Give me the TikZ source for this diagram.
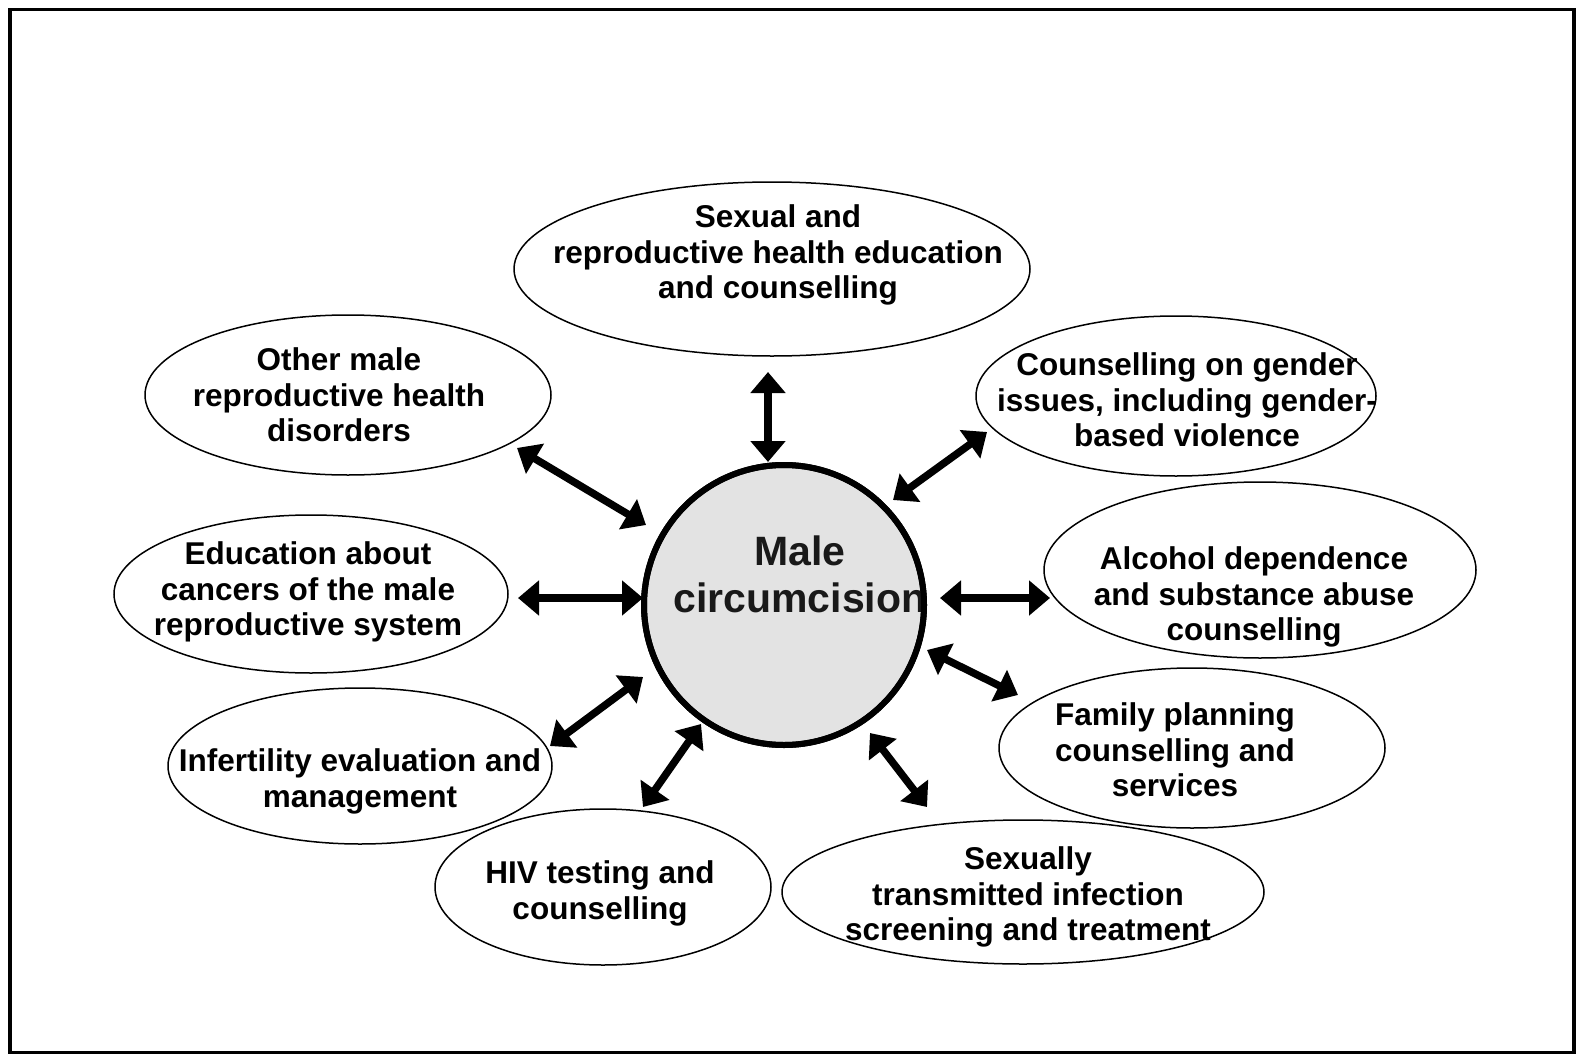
\documentclass[tikz,border=0pt]{standalone}
\usepackage{fontspec}
\setmainfont{Liberation Sans}
\usetikzlibrary{arrows.meta,shapes.geometric}
\begin{document}
\begin{tikzpicture}[x=1pt,y=-1pt,
  bubble/.style={draw, line width=1.5pt, ellipse, inner sep=0pt},
  lbl/.style={font=\fontsize{31.5}{35.5}\selectfont\bfseries, align=center, inner sep=0pt, anchor=north},
  hub/.style={circle, draw, line width=6pt, fill=gray!22, minimum size=280pt, inner sep=0pt},
  link/.style={line width=7.5pt, {Triangle[length=21pt,width=34pt]}-{Triangle[length=21pt,width=34pt]}}]
\useasboundingbox (0,0) rectangle (1580,1060);
\draw[line width=3.5pt] (10,9.5) rectangle (1574,1052.5);

% ellipses
\node[bubble, minimum width=516pt, minimum height=174pt] (srh) at (772,269) {};
\node[bubble, minimum width=406pt, minimum height=160pt] (oth) at (348,395) {};
\node[bubble, minimum width=400pt, minimum height=160pt] (gen) at (1176,396) {};
\node[bubble, minimum width=394pt, minimum height=158pt] (edu) at (311,594) {};
\node[bubble, minimum width=432pt, minimum height=176pt] (alc) at (1260,570) {};
\node[bubble, minimum width=384pt, minimum height=156pt] (inf) at (360,766) {};
\node[bubble, minimum width=386pt, minimum height=160pt] (fam) at (1192,748) {};
\node[bubble, minimum width=336pt, minimum height=156pt] (hiv) at (603,887) {};
\node[bubble, minimum width=482pt, minimum height=144pt] (sti) at (1023,892) {};

% labels
\node[lbl] (srhT) at (778,204.5) {Sexual and\\reproductive health education\\and counselling};
\node[lbl] (othT) at (339,347.5) {Other male\\reproductive health\\disorders};
\node[lbl] (genT) at (1187,352.5) {Counselling on gender\\issues, including gender-\\based violence};
\node[lbl] (eduT) at (308,541.5) {Education about\\cancers of the male\\reproductive system};
\node[lbl] (alcT) at (1254,546.5) {Alcohol dependence\\and substance abuse\\counselling};
\node[lbl] (infT) at (360,748.5) {Infertility evaluation and\\management};
\node[lbl] (famT) at (1175,702.5) {Family planning\\counselling and\\services};
\node[lbl] (hivT) at (600,860.5) {HIV testing and\\counselling};
\node[lbl] (stiT) at (1028,846.5) {Sexually\\transmitted infection\\screening and treatment};

% hub
\node[hub] (mc) at (784,605) {};
\begin{scope}
  \clip (mc.center) circle (140pt);
  \node[font=\fontsize{41}{47}\selectfont\bfseries, align=center, inner sep=0pt, anchor=north, text=black!90] (mcT) at (800,535.5) {Male\\circumcision};
\end{scope}
\draw[line width=6pt] (mc.center) circle (140pt);

% arrow ends
\coordinate (a1o) at (768,372);  \coordinate (a1i) at (768,462);
\coordinate (a2o) at (517,448);  \coordinate (a2i) at (646,525);
\coordinate (a3o) at (987,432);  \coordinate (a3i) at (893,500);
\coordinate (a4o) at (518,598);  \coordinate (a4i) at (643,598);
\coordinate (a5i) at (940,598);  \coordinate (a5o) at (1050,598);
\coordinate (a6o) at (550,746);  \coordinate (a6i) at (643,677);
\coordinate (a7i) at (927,650);  \coordinate (a7o) at (1018,695);
\coordinate (a8o) at (643,807);  \coordinate (a8i) at (701,724);
\coordinate (a9i) at (870,733);  \coordinate (a9o) at (927,807);

\draw[link] (a1o) -- (a1i);
\draw[link] (a2o) -- (a2i);
\draw[link] (a3o) -- (a3i);
\draw[link] (a4o) -- (a4i);
\draw[link] (a5i) -- (a5o);
\draw[link] (a6o) -- (a6i);
\draw[link] (a7i) -- (a7o);
\draw[link] (a8o) -- (a8i);
\draw[link] (a9i) -- (a9o);
\end{tikzpicture}
\end{document}
